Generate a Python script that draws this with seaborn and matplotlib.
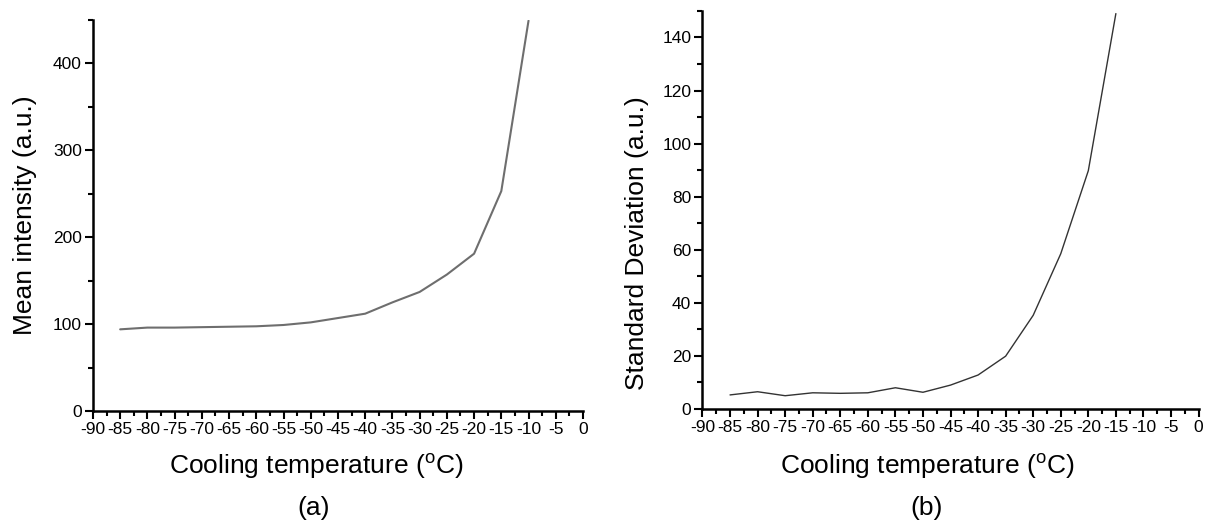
import numpy as np
import pandas as pd
import matplotlib
matplotlib.use("Agg")
import matplotlib.pyplot as plt
import seaborn as sns
from matplotlib.ticker import MultipleLocator

# data
temp_a = [-85, -80, -75, -70, -65, -60, -55, -50, -45, -40, -35, -30, -25, -20, -15, -10]
mean_intensity = [94, 96, 96, 96.5, 97, 97.5, 99, 102, 107, 112, 125, 137, 157, 181, 253, 449]

temp_b = [-85, -80, -75, -70, -65, -60, -55, -50, -45, -40, -35, -30, -25, -20, -15]
std_dev = [5.3, 6.5, 5.0, 6.1, 5.9, 6.1, 8.0, 6.3, 9.0, 12.8, 19.9, 35.3, 58.5, 89.8, 149]

x_ticks = list(range(-90, 1, 5))

sns.set_style("ticks")
plt.rcParams["font.family"] = ["Liberation Sans", "DejaVu Sans"]
plt.rcParams["mathtext.default"] = "regular"
plt.rcParams["text.color"] = "black"
plt.rcParams["xtick.color"] = "black"
plt.rcParams["ytick.color"] = "black"
plt.rcParams["axes.edgecolor"] = "black"

fig = plt.figure(figsize=(12.07, 5.21), dpi=100)
ax1 = fig.add_axes([0.077, 0.211, 0.406, 0.751])
ax2 = fig.add_axes([0.582, 0.215, 0.411, 0.764])

df_a = pd.DataFrame({"temp": temp_a, "val": mean_intensity})
df_b = pd.DataFrame({"temp": temp_b, "val": std_dev})

sns.lineplot(data=df_a, x="temp", y="val", ax=ax1, color="#6e6e6e", linewidth=1.5)
sns.lineplot(data=df_b, x="temp", y="val", ax=ax2, color="#333333", linewidth=1.0)

for ax, ymax, ymaj in [(ax1, 450, 100), (ax2, 150, 20)]:
    ax.set_xlim(-90, 0)
    ax.set_ylim(0, ymax)
    ax.set_xticks(x_ticks)
    ax.set_xticklabels([str(t) for t in x_ticks])
    ax.xaxis.set_minor_locator(MultipleLocator(2.5))
    ax.yaxis.set_major_locator(MultipleLocator(ymaj))
    ax.yaxis.set_minor_locator(MultipleLocator(ymaj / 2))
    ax.tick_params(which="major", direction="out", length=6, width=1.5, labelsize=12.5, pad=2)
    ax.tick_params(which="minor", direction="out", length=3.5, width=1.5)
    for s in ["left", "bottom"]:
        ax.spines[s].set_linewidth(1.8)
    sns.despine(ax=ax)
    ax.set_xlabel("")
    ax.set_ylabel("")

# axis titles and captions
fig.text(0.262, 0.104, "Cooling temperature ($^{o}$C)", ha="center", va="center", fontsize=19)
fig.text(0.260, 0.025, "(a)", ha="center", va="center", fontsize=19)
fig.text(0.768, 0.104, "Cooling temperature ($^{o}$C)", ha="center", va="center", fontsize=19)
fig.text(0.768, 0.025, "(b)", ha="center", va="center", fontsize=19)
fig.text(0.021, 0.587, "Mean intensity (a.u.)", ha="center", va="center", rotation=90, fontsize=19)
fig.text(0.528, 0.533, "Standard Deviation (a.u.)", ha="center", va="center", rotation=90, fontsize=19)

fig.savefig("out.png", dpi=100)
